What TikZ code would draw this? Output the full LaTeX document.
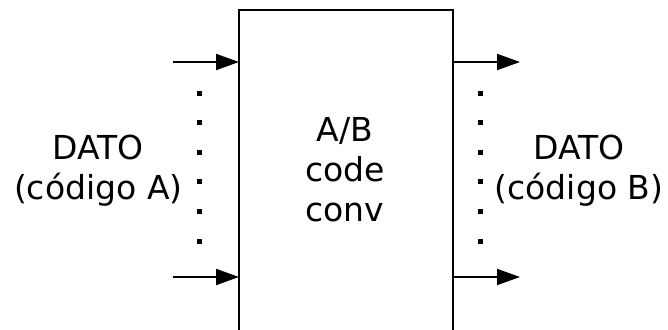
\documentclass[tikz,border=0pt]{standalone}
\usepackage{fontspec}
\setmainfont{DejaVu Sans}
\usetikzlibrary{arrows.meta}
\begin{document}
\begin{tikzpicture}[x=1pt,y=-1pt,
  lbl/.style={font=\fontsize{33}{40}\selectfont, align=center, inner sep=0pt},
  dotsq/.style={fill=black, minimum size=5pt, inner sep=0pt, draw=none, rectangle},
  sig/.style={line width=2pt, -{Triangle[length=23pt,width=16pt]}},
  boxline/.style={line width=2.2pt}]
\useasboundingbox (0,0) rectangle (668,329);
% box (open at bottom, reaching the edge)
\coordinate (bl) at (239,335);
\coordinate (tl) at (239,10);
\coordinate (tr) at (453,10);
\coordinate (br) at (453,335);
\draw[boxline, line join=miter] (bl) -- (tl) -- (tr) -- (br);
% arrows
\coordinate (in1) at (173,62);
\coordinate (in1e) at (239,62);
\coordinate (in2) at (173,277);
\coordinate (in2e) at (239,277);
\coordinate (out1s) at (453,62);
\coordinate (out1) at (520,62);
\coordinate (out2s) at (453,277);
\coordinate (out2) at (520,277);
\draw[sig] (in1) -- (in1e);
\draw[sig] (in2) -- (in2e);
\draw[sig] (out1s) -- (out1);
\draw[sig] (out2s) -- (out2);
% dots
\foreach \i in {0,...,5} {
  \node[dotsq] (ld\i) at (199,{93+29.6*\i}) {};
  \node[dotsq] (rd\i) at (480,{93+29.6*\i}) {};
}
% labels
\node[lbl] (inlbl) at (98.3,171) {DATO\\(código A)};
\node[lbl] (blk) at (345,170) {A/B\\code\\conv};
\node[lbl] (outlbl) at (579,171) {DATO\\(código B)};
\end{tikzpicture}
\end{document}
